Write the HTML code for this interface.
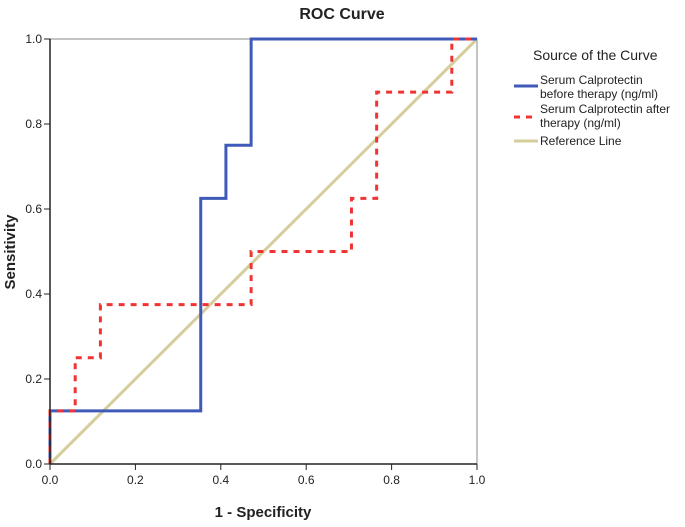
<!DOCTYPE html>
<html><head><meta charset="utf-8"><style>
body{margin:0;background:#fff;font-family:"Liberation Sans",Arial,sans-serif}
svg text{font-family:"Liberation Sans",Arial,sans-serif}
</style></head><body>
<svg width="685" height="522">
<text x="342" y="19" text-anchor="middle" font-size="16" font-weight="bold" fill="#222">ROC Curve</text>
<g id="plot"></g>
<text x="263" y="517" text-anchor="middle" font-size="15" font-weight="bold" fill="#222">1 - Specificity</text>
<text transform="translate(15,252) rotate(-90)" text-anchor="middle" font-size="15" font-weight="bold" fill="#222">Sensitivity</text>
<g>
<text x="533" y="60" font-size="14" fill="#222">Source of the Curve</text>
<g>
<line x1="514" y1="86" x2="538" y2="86" stroke="#3f5ab8" stroke-width="3"/>
<text x="540" y="84" font-size="12" fill="#222">Serum Calprotectin</text>
<text x="540" y="98" font-size="12" fill="#222">before therapy (ng/ml)</text></g>
<g>
<line x1="514" y1="117" x2="538" y2="117" stroke="#f03434" stroke-width="3" stroke-dasharray="6,6"/>
<text x="540" y="113" font-size="12" fill="#222">Serum Calprotectin after</text>
<text x="540" y="127" font-size="12" fill="#222">therapy (ng/ml)</text></g>
<g>
<line x1="514" y1="141" x2="538" y2="141" stroke="#d6cd9c" stroke-width="3"/>
<text x="540" y="145" font-size="12" fill="#222">Reference Line</text></g>
</g>
</svg>
<script>
const ticks=[0,0.2,0.4,0.6,0.8,1.0];
const beforeX=[0,0,0.353,0.353,0.412,0.412,0.471,0.471,1];
const beforeY=[0,0.125,0.125,0.625,0.625,0.75,0.75,1,1];
const afterX=[0,0,0.059,0.059,0.118,0.118,0.471,0.471,0.706,0.706,0.765,0.765,0.941,0.941,1];
const afterY=[0,0.125,0.125,0.25,0.25,0.375,0.375,0.5,0.5,0.625,0.625,0.875,0.875,1,1];
const refX=[0,1], refY=[0,1];
const X0=50,X1=477,Y0=464,Y1=39;
const sx=v=>X0+v*(X1-X0), sy=v=>Y0-v*(Y0-Y1);
const g=document.getElementById('plot');
const NS='http://www.w3.org/2000/svg';
function mk(t,a){const e=document.createElementNS(NS,t);for(const k in a)e.setAttribute(k,a[k]);g.appendChild(e);return e;}
const fr=mk('rect',{x:X0,y:Y1,width:X1-X0,height:Y0-Y1,fill:'none',stroke:'#888','stroke-width':1});


function pts(xs,ys){return xs.map((x,i)=>sx(x)+','+sy(ys[i])).join(' ');}
const r=mk('polyline',{points:pts(refX,refY),fill:'none',stroke:'#d6cd9c','stroke-width':3});


const b=mk('polyline',{points:pts(beforeX,beforeY),fill:'none',stroke:'#3f5ab8','stroke-width':3});


const a=mk('polyline',{points:pts(afterX,afterY),fill:'none',stroke:'#f03434','stroke-width':3,'stroke-dasharray':'6,6'});


const ax=mk('line',{x1:X0,y1:Y0,x2:X1,y2:Y0,stroke:'#222','stroke-width':1.5});


const ay=mk('line',{x1:X0,y1:Y0,x2:X0,y2:Y1,stroke:'#222','stroke-width':1.5});


ticks.forEach(t=>{
 mk('line',{x1:sx(t),y1:Y0,x2:sx(t),y2:Y0+6,stroke:'#222'});
 const tx=mk('text',{x:sx(t),y:Y0+20,'text-anchor':'middle','font-size':12,fill:'#222'});tx.textContent=t.toFixed(1);
 
 
 mk('line',{x1:X0-6,y1:sy(t),x2:X0,y2:sy(t),stroke:'#222'});
 const ty=mk('text',{x:X0-8,y:sy(t)+4,'text-anchor':'end','font-size':12,fill:'#222'});ty.textContent=t.toFixed(1);
 
 
});
</script>
</body></html>
